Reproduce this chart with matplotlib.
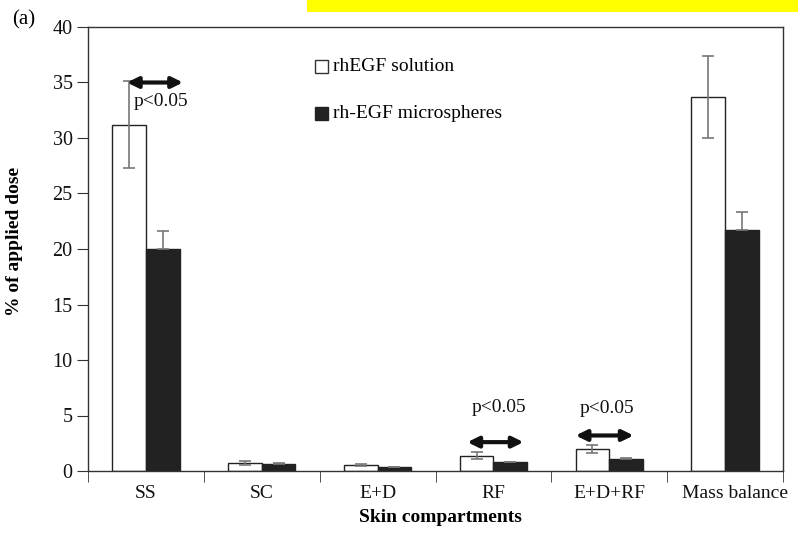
import matplotlib
matplotlib.use("Agg")
import matplotlib.pyplot as plt
import matplotlib.transforms as mtransforms
from matplotlib.patches import Rectangle
import numpy as np

plt.rcParams['font.family'] = ['Liberation Serif', 'DejaVu Serif']

categories = ["SS", "SC", "E+D", "RF", "E+D+RF", "Mass balance"]
solution = [31.2, 0.70, 0.54, 1.38, 1.95, 33.7]
solution_err = [3.9, 0.20, 0.10, 0.30, 0.35, 3.7]
microspheres = [20.0, 0.63, 0.33, 0.80, 1.05, 21.7]
microspheres_err = [1.6, 0.05, 0.04, 0.04, 0.12, 1.6]

# significance markers per group
sig_groups = [0, 3, 4]
sig_arrow_y = [35.0, 2.6, 3.2]
sig_x0 = [-0.164, -0.225, -0.29]
sig_x1 = [0.32, 0.26, 0.21]
sig_text_y = [33.3, 5.68, 5.6]
sig_text_dx = [0.13, 0.05, -0.02]

FS = 14

fig = plt.figure(figsize=(7.98, 5.34), dpi=100)
ax = fig.add_axes([88/798, 1-471/534, (783-88)/798, (471-27)/534])

x = np.arange(len(categories)) + 0.5
w = 0.29
err_col = "#777777"

ax.bar(x - w/2, solution, w, color="white", edgecolor="#222222", linewidth=1.0, zorder=2)
ax.bar(x + w/2, microspheres, w, color="#222222", edgecolor="#222222", linewidth=1.0, zorder=2)
ax.errorbar(x - w/2, solution, yerr=solution_err, fmt="none", ecolor=err_col,
            elinewidth=1.2, capsize=4, capthick=1.2, zorder=3)
ax.errorbar(x + w/2, microspheres, yerr=[np.zeros(len(microspheres)), microspheres_err],
            fmt="none", ecolor=err_col, elinewidth=1.2, capsize=4, capthick=1.2, zorder=3)

for g, ay, x0, x1, ty, tdx in zip(sig_groups, sig_arrow_y, sig_x0, sig_x1, sig_text_y, sig_text_dx):
    c = x[g]
    ax.annotate("", xy=(c + x1, ay), xytext=(c + x0, ay),
                arrowprops=dict(arrowstyle="<|-|>,head_length=0.65,head_width=0.32",
                                color="#111111", lw=3.0, shrinkA=0, shrinkB=0), zorder=4)
    ax.text(c + tdx, ty, "p<0.05", ha="center", va="center", fontsize=FS, color="#111111")

ax.set_xlim(0, 6)
ax.set_ylim(0, 40)
ax.set_yticks(np.arange(0, 41, 5))
ax.tick_params(axis="y", direction="out", length=8, pad=3, labelsize=14.5,
               colors="#333333", labelcolor="#111111")
ax.set_xticks(x)
ax.set_xticklabels(categories, fontsize=FS)
ax.tick_params(axis="x", length=0, pad=10, labelsize=FS, labelcolor="#111111")
ax.set_xticks(np.arange(0, 7), minor=True)
ax.tick_params(axis="x", which="minor", direction="out", length=8, color="#333333")

# long last category label sits slightly right of its group centre
lbl = ax.get_xticklabels()[-1]
lbl.set_transform(lbl.get_transform() + mtransforms.ScaledTranslation(10/100, 0, fig.dpi_scale_trans))

for s in ax.spines.values():
    s.set_color("#333333")
    s.set_linewidth(1.0)

ax.set_ylabel("% of applied dose", fontsize=FS, fontweight="bold")
ax.yaxis.set_label_coords((15-88)/695, (471-241)/444)
ax.yaxis.label.set_va("center")
ax.set_xlabel("Skin compartments", fontsize=FS, fontweight="bold")
ax.xaxis.set_label_coords((440-88)/695, (471-517)/444)
ax.xaxis.label.set_va("center")

# legend entries
ax.add_patch(Rectangle((0.3266, 0.897), 0.0187, 0.0293, transform=ax.transAxes,
                       facecolor="white", edgecolor="#333333", lw=1.0, clip_on=False))
ax.text(0.3525, 0.91, "rhEGF solution", transform=ax.transAxes, fontsize=FS, va="center")
ax.add_patch(Rectangle((0.3266, 0.7905), 0.0187, 0.0293, transform=ax.transAxes,
                       facecolor="#222222", edgecolor="#222222", lw=1.0, clip_on=False))
ax.text(0.3525, 0.805, "rh-EGF microspheres", transform=ax.transAxes, fontsize=FS, va="center")

fig.text(12/798, 1-20/534, "(a)", fontsize=15, va="center", ha="left")
fig.patches.append(Rectangle((307/798, 1-12/534), (798-307)/798, 12/534,
                             transform=fig.transFigure, facecolor="#ffff00", edgecolor="none"))

fig.savefig("out.png", dpi=100)
